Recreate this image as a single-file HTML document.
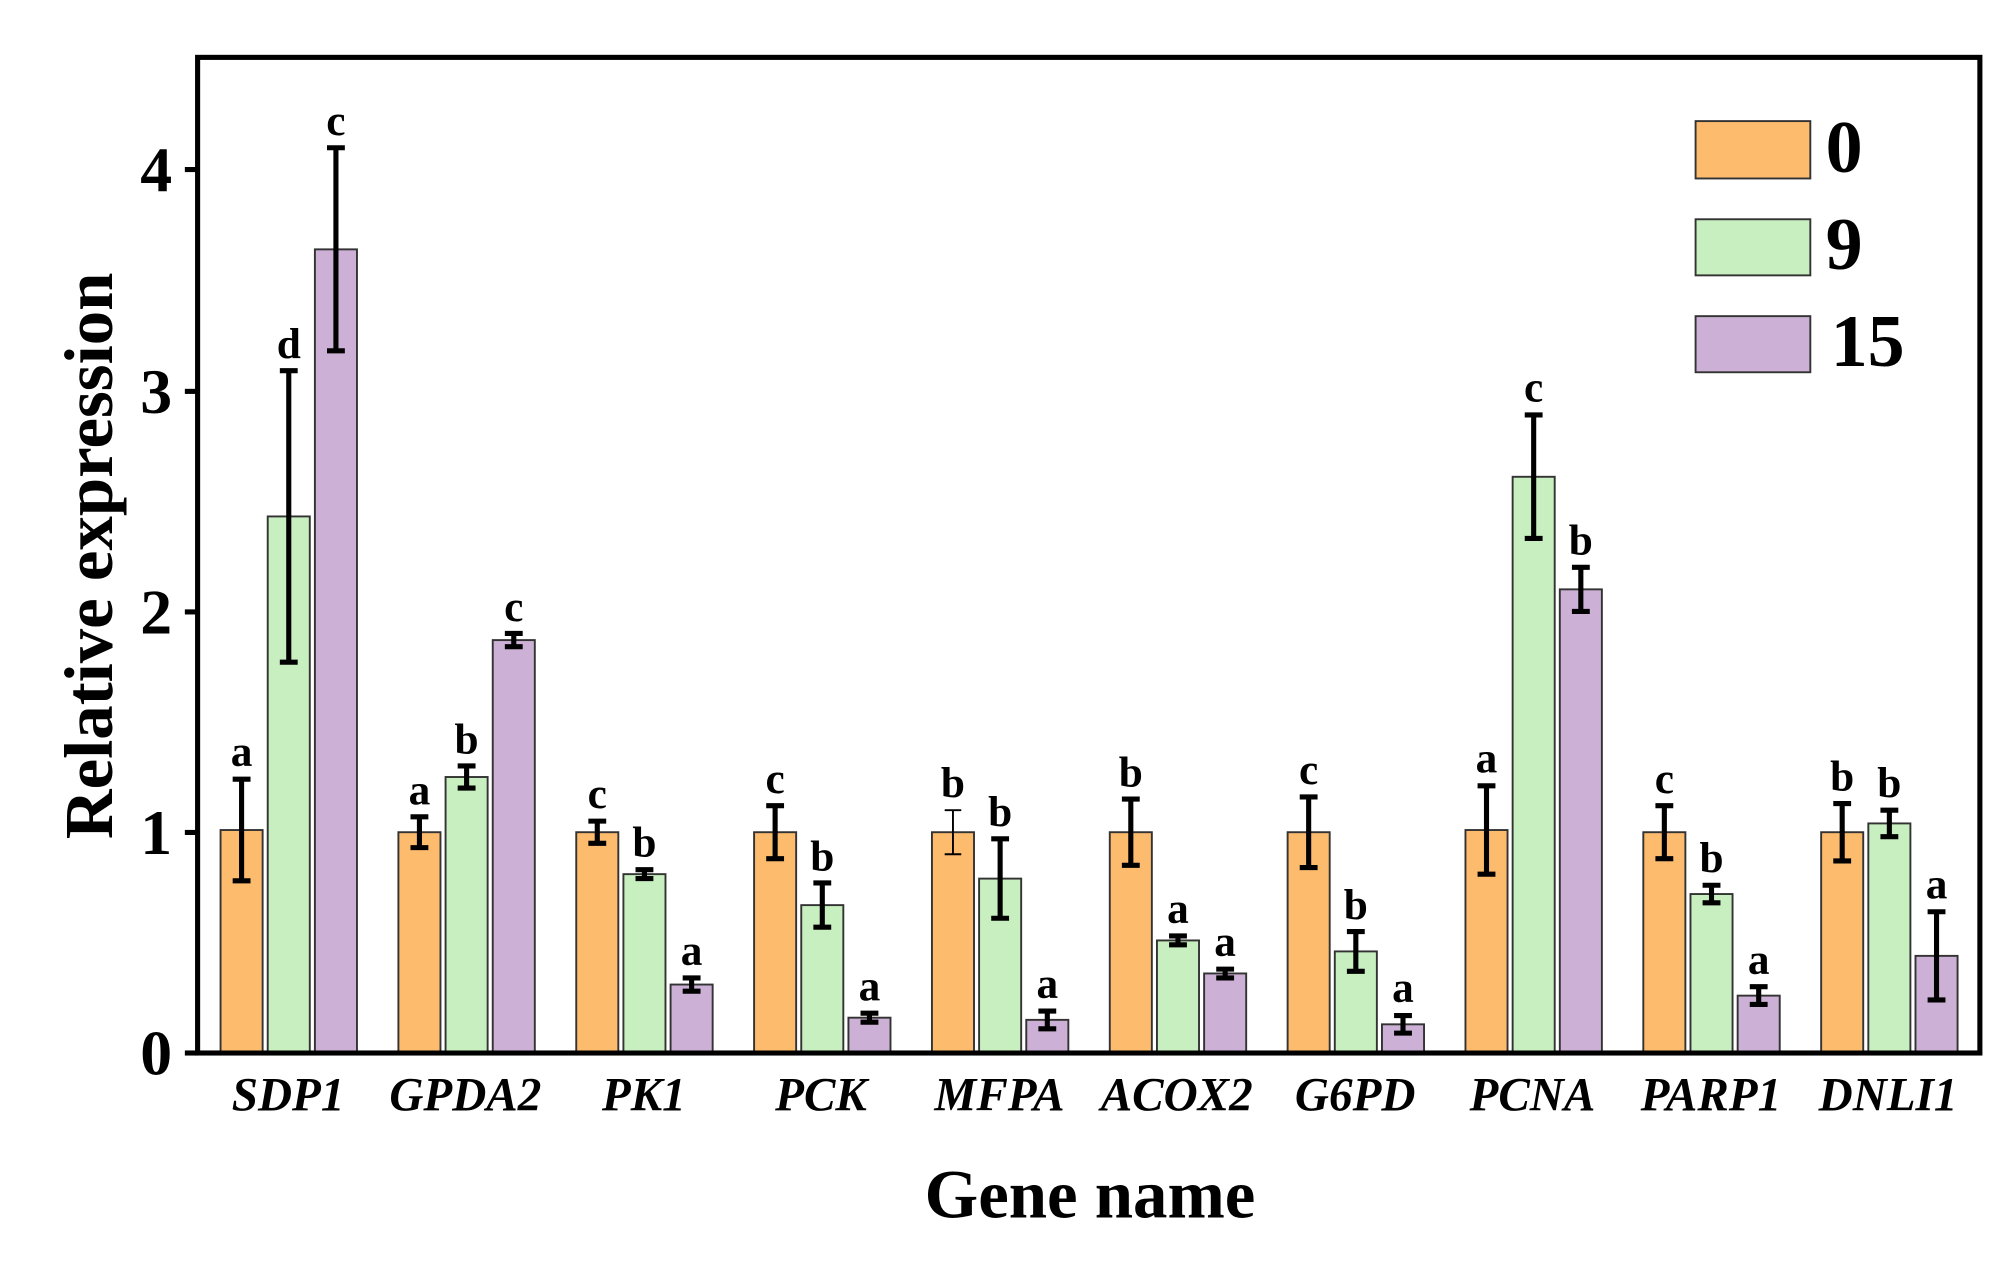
<!DOCTYPE html>
<html><head><meta charset="utf-8"><style>html,body{margin:0;padding:0;background:#fff}svg{display:block}</style></head>
<body>
<svg width="1999" height="1271" viewBox="0 0 1568 997" preserveAspectRatio="none" xmlns="http://www.w3.org/2000/svg" font-family="Liberation Serif, serif" font-weight="bold">
<rect x="155" y="45" width="1398" height="781" fill="none" stroke="#000" stroke-width="4"/>
<g stroke="#000" stroke-width="4">
<line x1="145" y1="826" x2="155" y2="826"/><line x1="145" y1="653" x2="155" y2="653"/><line x1="145" y1="480" x2="155" y2="480"/><line x1="145" y1="307" x2="155" y2="307"/><line x1="145" y1="133" x2="155" y2="133"/>
</g>
<g font-size="50" text-anchor="end">
<text x="135" y="843">0</text><text x="135" y="670">1</text><text x="135" y="497">2</text><text x="135" y="324">3</text><text x="135" y="150">4</text>
</g>
<text transform="translate(88,436) rotate(-90)" font-size="54" text-anchor="middle">Relative expression</text>
<text x="855" y="955" font-size="54" text-anchor="middle">Gene name</text>
<g font-size="37" font-style="italic" text-anchor="middle">
<text x="226" y="871">SDP1</text><text x="365" y="871">GPDA2</text><text x="505" y="871">PK1</text><text x="644" y="871">PCK</text><text x="784" y="871">MFPA</text><text x="923" y="871">ACOX2</text><text x="1063" y="871">G6PD</text><text x="1202" y="871">PCNA</text><text x="1342" y="871">PARP1</text><text x="1481" y="871">DNLI1</text>
</g>
<g stroke="#333" stroke-width="1.5">
<g fill="#FDBB6E">
<rect x="173" y="651.1" width="33" height="174.9"/><rect x="312.5" y="652.8" width="33" height="173.2"/><rect x="452" y="652.8" width="33" height="173.2"/><rect x="591.5" y="652.8" width="33" height="173.2"/><rect x="731" y="652.8" width="33" height="173.2"/><rect x="870.5" y="652.8" width="33" height="173.2"/><rect x="1010" y="652.8" width="33" height="173.2"/><rect x="1149.5" y="651.1" width="33" height="174.9"/><rect x="1289" y="652.8" width="33" height="173.2"/><rect x="1428.5" y="652.8" width="33" height="173.2"/>
</g>
<g fill="#C8EFC0">
<rect x="210" y="405.1" width="33" height="420.9"/><rect x="349.5" y="609.5" width="33" height="216.5"/><rect x="489" y="685.7" width="33" height="140.3"/><rect x="628.5" y="710" width="33" height="116"/><rect x="768" y="689.2" width="33" height="136.8"/><rect x="907.5" y="737.7" width="33" height="88.3"/><rect x="1047" y="746.3" width="33" height="79.7"/><rect x="1186.5" y="374" width="33" height="452"/><rect x="1326" y="701.3" width="33" height="124.7"/><rect x="1465.5" y="645.9" width="33" height="180.1"/>
</g>
<g fill="#CDB0D6">
<rect x="247" y="195.6" width="33" height="630.4"/><rect x="386.5" y="502.1" width="33" height="323.9"/><rect x="526" y="772.3" width="33" height="53.7"/><rect x="665.5" y="798.3" width="33" height="27.7"/><rect x="805" y="800" width="33" height="26"/><rect x="944.5" y="763.6" width="33" height="62.4"/><rect x="1084" y="803.5" width="33" height="22.5"/><rect x="1223.5" y="462.3" width="33" height="363.7"/><rect x="1363" y="781" width="33" height="45"/><rect x="1502.5" y="749.8" width="33" height="76.2"/>
</g>
</g>
<line x1="155" y1="826" x2="1553" y2="826" stroke="#000" stroke-width="4"/>
<g stroke="#000" stroke-width="4" fill="none">
<path d="M189.5 611.2V690.9M182.5 611.2h14M182.5 690.9h14"/>
<path d="M226.5 290.8V519.4M219.5 290.8h14M219.5 519.4h14"/>
<path d="M263.5 115.9V275.2M256.5 115.9h14M256.5 275.2h14"/>
<path d="M329 640.7V664.9M322 640.7h14M322 664.9h14"/>
<path d="M366 600.8V618.2M359 600.8h14M359 618.2h14"/>
<path d="M403 496.9V507.3M396 496.9h14M396 507.3h14"/>
<path d="M468.5 644.1V661.5M461.5 644.1h14M461.5 661.5h14"/>
<path d="M505.5 682.2V689.2M498.5 682.2h14M498.5 689.2h14"/>
<path d="M542.5 767.1V777.5M535.5 767.1h14M535.5 777.5h14"/>
<path d="M608 632V673.6M601 632h14M601 673.6h14"/>
<path d="M645 692.6V727.3M638 692.6h14M638 727.3h14"/>
<path d="M682 794.8V801.8M675 794.8h14M675 801.8h14"/>
<path d="M784.5 658V720.3M777.5 658h14M777.5 720.3h14"/>
<path d="M821.5 793.1V807M814.5 793.1h14M814.5 807h14"/>
<path d="M887 626.8V678.8M880 626.8h14M880 678.8h14"/>
<path d="M924 734.2V741.1M917 734.2h14M917 741.1h14"/>
<path d="M961 760.2V767.1M954 760.2h14M954 767.1h14"/>
<path d="M1026.5 625.1V680.5M1019.5 625.1h14M1019.5 680.5h14"/>
<path d="M1063.5 730.7V761.9M1056.5 730.7h14M1056.5 761.9h14"/>
<path d="M1100.5 796.6V810.4M1093.5 796.6h14M1093.5 810.4h14"/>
<path d="M1166 616.4V685.7M1159 616.4h14M1159 685.7h14"/>
<path d="M1203 325.5V422.4M1196 325.5h14M1196 422.4h14"/>
<path d="M1240 445V479.6M1233 445h14M1233 479.6h14"/>
<path d="M1305.5 632V673.6M1298.5 632h14M1298.5 673.6h14"/>
<path d="M1342.5 694.4V708.2M1335.5 694.4h14M1335.5 708.2h14"/>
<path d="M1379.5 774V787.9M1372.5 774h14M1372.5 787.9h14"/>
<path d="M1445 630.3V675.3M1438 630.3h14M1438 675.3h14"/>
<path d="M1482 635.5V656.3M1475 635.5h14M1475 656.3h14"/>
<path d="M1519 715.2V784.4M1512 715.2h14M1512 784.4h14"/>
</g>
<path d="M747.5 635.5V670.1M741 635.5h13M741 670.1h13" stroke="#000" stroke-width="1.5" fill="none"/>
<g font-size="34" text-anchor="middle">
<text x="189.5" y="601">a</text><text x="226.5" y="281">d</text><text x="263.5" y="106">c</text>
<text x="329" y="631">a</text><text x="366" y="591">b</text><text x="403" y="487">c</text>
<text x="468.5" y="634">c</text><text x="505.5" y="672">b</text><text x="542.5" y="757">a</text>
<text x="608" y="622">c</text><text x="645" y="683">b</text><text x="682" y="785">a</text>
<text x="747.5" y="625">b</text><text x="784.5" y="648">b</text><text x="821.5" y="783">a</text>
<text x="887" y="617">b</text><text x="924" y="724">a</text><text x="961" y="750">a</text>
<text x="1026.5" y="615">c</text><text x="1063.5" y="721">b</text><text x="1100.5" y="786">a</text>
<text x="1166" y="606">a</text><text x="1203" y="315">c</text><text x="1240" y="435">b</text>
<text x="1305.5" y="622">c</text><text x="1342.5" y="684">b</text><text x="1379.5" y="764">a</text>
<text x="1445" y="620">b</text><text x="1482" y="625">b</text><text x="1519" y="705">a</text>
</g>
<g stroke="#333" stroke-width="1.5">
<rect x="1330" y="95" width="90" height="45" fill="#FDBB6E"/>
<rect x="1330" y="172" width="90" height="44" fill="#C8EFC0"/>
<rect x="1330" y="248" width="90" height="44" fill="#CDB0D6"/>
</g>
<g font-size="58">
<text x="1432" y="135">0</text><text x="1432" y="211">9</text><text x="1436" y="287">15</text>
</g>
</svg>
</body></html>
